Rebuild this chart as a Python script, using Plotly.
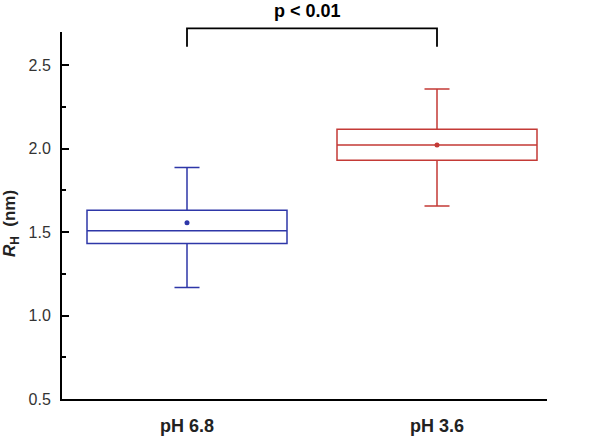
import plotly.graph_objects as go

categories = ["pH 6.8", "pH 3.6"]
q1_vals = [1.432, 1.931]
median_vals = [1.508, 2.023]
q3_vals = [1.632, 2.117]
lower_vals = [1.169, 1.657]
upper_vals = [1.887, 2.358]
mean_vals = [1.556, 2.023]
colors = ["#2e37a8", "#c43a36"]
p_label = "p < 0.01"
y_ticks = [0.5, 1.0, 1.5, 2.0, 2.5]

FONT = "Liberation Sans, Arial"

fig = go.Figure()
for i, cat in enumerate(categories):
    fig.add_trace(go.Box(
        x=[cat], q1=[q1_vals[i]], median=[median_vals[i]], q3=[q3_vals[i]],
        lowerfence=[lower_vals[i]], upperfence=[upper_vals[i]],
        width=0.8, whiskerwidth=0.125, boxpoints=False,
        line=dict(color=colors[i], width=1.5), fillcolor="rgba(0,0,0,0)",
        showlegend=False, hoverinfo="skip"))
    fig.add_trace(go.Scatter(
        x=[cat], y=[mean_vals[i]], mode="markers",
        marker=dict(color=colors[i], size=5), showlegend=False, hoverinfo="skip"))

fig.add_shape(type="path", xref="x", yref="paper",
              path="M 0,0.960 L 0,1.010 L 1,1.010 L 1,0.960",
              line=dict(color="black", width=1.8))
fig.add_annotation(x=0.48, xref="x", y=1.058, yref="paper", yanchor="middle",
                   text="<b>" + p_label + "</b>", showarrow=False,
                   font=dict(size=18, color="black", family=FONT))
fig.add_annotation(x=-0.105, xref="paper", y=0.477, yref="paper", xanchor="center", yanchor="middle",
                   textangle=-90, showarrow=False,
                   text="<b><i>R</i><sub>H</sub>&nbsp; (nm)</b>",
                   font=dict(size=17, color="#222", family=FONT))

fig.update_layout(
    width=600, height=437, margin=dict(l=62, r=53, t=32, b=38, autoexpand=False),
    plot_bgcolor="white", paper_bgcolor="white",
    font=dict(family=FONT, color="#222"),
)
fig.update_xaxes(
    type="category", range=[-0.5, 1.44], showline=True, linecolor="black", linewidth=2,
    ticks="", showgrid=False, zeroline=False, ticklabelstandoff=9, automargin=False,
    tickvals=categories, ticktext=["<b>" + c + "</b>" for c in categories],
    tickfont=dict(size=18, color="#222"))
fig.update_yaxes(
    range=[0.5, 2.7], showline=True, linecolor="black", linewidth=2, automargin=False,
    ticks="inside", ticklen=7, tickwidth=1.5, tickcolor="black",
    tickvals=y_ticks, ticktext=["%.1f" % v for v in y_ticks],
    minor=dict(ticks="inside", ticklen=4, tickwidth=1.5, tickcolor="black", dtick=0.25, showgrid=False),
    showgrid=False, zeroline=False, ticklabelstandoff=6,
    tickfont=dict(size=16, color="#333"))

fig.write_html("out.html", config={"displayModeBar": False},
               post_script="document.body.style.margin='0';document.body.style.padding='0';document.body.style.overflow='hidden';")
